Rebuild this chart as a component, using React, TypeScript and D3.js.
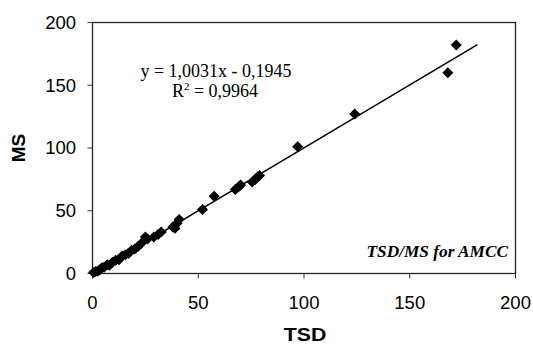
import React from "react";
import * as d3 from "d3";

const tsd = [0.5, 1.5, 2.5, 3.5, 4.5, 5.5, 7, 8, 9.5, 11, 12.5, 14, 15.5, 17, 18.5, 20, 21.5, 23, 25, 26, 29, 31, 32.5, 38, 39, 40, 41, 52, 57.5, 67.5, 69, 70, 75.5, 77, 78, 79, 97, 124, 168, 172];
const ms = [0.8, 1.5, 2, 3, 4.5, 5, 7, 6.5, 9, 10.5, 11, 14, 15, 16, 18.5, 19.5, 21.5, 24, 29, 27.5, 29, 31, 33, 37, 36, 40, 43, 51, 61.5, 67, 69, 70.5, 73, 75, 77, 78, 101, 127, 160, 182];
const ticks = [0, 50, 100, 150, 200];
const slope = 1.0031;
const intercept = -0.1945;
const fitRange = [0, 182];
const eqLine1 = "y = 1,0031x - 0,1945";
const r2Value = " = 0,9964";
const xTitle = "TSD";
const yTitle = "MS";
const caption = "TSD/MS for AMCC";

export default function App() {
  const left = 92.5, right = 515.5, top = 22.5, bottom = 273.5;
  const x = d3.scaleLinear().domain([0, 200]).range([left, right]);
  const y = d3.scaleLinear().domain([0, 200]).range([bottom, top]);
  const fit = d3.line<number>().x((v) => x(v)).y((v) => y(slope * v + intercept));
  const diamond = (cx: number, cy: number) => {
    const r = 5.5;
    return `M${cx},${cy - r}L${cx + r},${cy}L${cx},${cy + r}L${cx - r},${cy}Z`;
  };
  const sans = "'Liberation Sans', Arial, sans-serif";
  const serif = "'Liberation Serif', 'Times New Roman', serif";
  return (
    <div style={{ position: "fixed", left: 0, top: 0 }}>
      <svg width={533} height={346} style={{ display: "block", background: "#fff" }}>
        <rect x={left} y={top} width={right - left} height={bottom - top} fill="none" stroke="#222" strokeWidth={1.3} />
        {ticks.map((t) => (
          <g key={"x" + t}>
            <line x1={x(t)} x2={x(t)} y1={bottom} y2={bottom + 5} stroke="#333" />
            <text x={x(t)} y={309} textAnchor="middle" fontFamily={sans} fontSize={18.5} fill="#000">{t}</text>
          </g>
        ))}
        {ticks.map((t) => (
          <g key={"y" + t}>
            <line x1={left - 5} x2={left} y1={y(t)} y2={y(t)} stroke="#333" />
            <text x={76} y={y(t) + 6.3} textAnchor="end" fontFamily={sans} fontSize={18.5} fill="#000">{t}</text>
          </g>
        ))}
        <path d={fit(fitRange) || ""} stroke="#000" strokeWidth={1.5} fill="none" />
        {tsd.map((v, i) => (
          <path key={i} d={diamond(x(v), y(ms[i]))} fill="#000" />
        ))}
        <text x={305} y={341} textAnchor="middle" fontFamily={sans} fontWeight="bold" fontSize={18.5} transform="translate(305,0) scale(1.15,1) translate(-305,0)">{xTitle}</text>
        <text transform="translate(25,148) rotate(-90)" textAnchor="middle" fontFamily={sans} fontWeight="bold" fontSize={19}>{yTitle}</text>
        <text x={216} y={77} textAnchor="middle" fontFamily={serif} fontSize={18}>{eqLine1}</text>
        <text x={215} y={97} textAnchor="middle" fontFamily={serif} fontSize={18}>
          R<tspan dy={-7} fontSize={11}>2</tspan><tspan dy={7}>{r2Value}</tspan>
        </text>
        <text x={508} y={257} textAnchor="end" fontFamily={serif} fontWeight="bold" fontStyle="italic" fontSize={17.3}>{caption}</text>
      </svg>
    </div>
  );
}
